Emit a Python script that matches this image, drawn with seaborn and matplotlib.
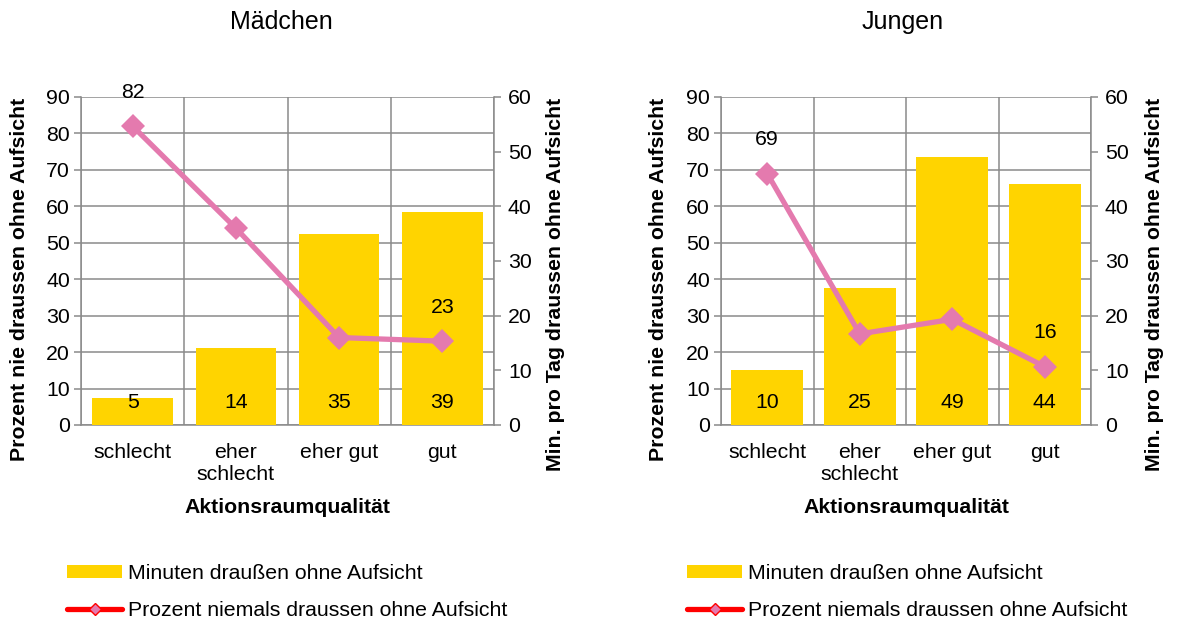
import numpy as np
import matplotlib
matplotlib.use("Agg")
import matplotlib.pyplot as plt
from matplotlib.patches import Patch
from matplotlib.lines import Line2D
from matplotlib.ticker import FixedLocator, NullFormatter
import seaborn as sns

# ---- data -------------------------------------------------------------
categories = ["schlecht", "eher\nschlecht", "eher gut", "gut"]
panel_titles = ["Mädchen", "Jungen"]

# minutes per day outside without supervision (bars, right axis)
minutes_girls = [5, 14, 35, 39]
minutes_boys = [10, 25, 49, 44]

# percent never outside without supervision (line, left axis)
percent_girls = [82, 54, 24, 23]
percent_boys = [69, 25, 29, 16]

left_ticks = list(range(0, 91, 10))
right_ticks = list(range(0, 61, 10))

bar_label = "Minuten draußen ohne Aufsicht"
line_label = "Prozent niemals draussen ohne Aufsicht"
left_ylabel = "Prozent nie draussen ohne Aufsicht"
right_ylabel = "Min. pro Tag draussen ohne Aufsicht"
xlabel = "Aktionsraumqualität"

# ---- style ------------------------------------------------------------
sns.set_theme(style="white")
plt.rcParams["font.family"] = ["Liberation Sans", "DejaVu Sans"]
plt.rcParams.update({
    "text.color": "black",
    "axes.labelcolor": "black",
    "xtick.color": "black",
    "ytick.color": "black",
})

GOLD = "#FFD400"
PINK = "#E47AAE"
GRID = "#8A8A8A"
FS = 15.3

W, H = 1177, 626
fig = plt.figure(figsize=(W / 100, H / 100), dpi=100)


def panel(rect, minutes, percent, title, label_x, title_x):
    ax = fig.add_axes(rect)          # left scale + grid
    ax_bar = ax.twinx()              # right scale, bars
    ax_line = ax.twinx()             # left scale, line on top
    for a in (ax_bar, ax_line):
        a.patch.set_visible(False)

    n = len(categories)
    pos = np.arange(n)

    sns.barplot(x=pos, y=minutes, ax=ax_bar, color=GOLD, saturation=1,
                width=0.78, native_scale=True, linewidth=0, zorder=2)
    sns.lineplot(x=pos, y=percent, ax=ax_line, color=PINK, linewidth=3.8,
                 marker="D", markersize=12, markeredgecolor=PINK,
                 markeredgewidth=0, zorder=5)

    # y scales
    ax.set_ylim(0, 90)
    ax_line.set_ylim(0, 90)
    ax_bar.set_ylim(0, 60)
    ax.set_yticks(left_ticks)
    ax_bar.set_yticks(right_ticks)
    ax_line.set_yticks([])
    ax_line.set_ylabel("")
    ax_bar.set_ylabel("")

    # x scale: boundary ticks with grid, category labels in the middle
    for a in (ax, ax_bar, ax_line):
        a.set_xlim(-0.5, n - 0.5)
    ax.xaxis.set_major_locator(FixedLocator(np.arange(n + 1) - 0.5))
    ax.xaxis.set_major_formatter(NullFormatter())
    ax.xaxis.set_minor_locator(FixedLocator(pos))
    ax.set_xticklabels(categories, minor=True)
    ax.tick_params(axis="x", which="minor", length=0, pad=13,
                   labelsize=FS, labelcolor="black")
    ax.tick_params(axis="x", which="major", length=5, width=1.1,
                   color=GRID, direction="out")
    ax.tick_params(axis="y", length=5, width=1.1, color=GRID,
                   direction="out", labelsize=FS, pad=3, labelcolor="black")
    ax_bar.tick_params(axis="y", length=5, width=1.1, color=GRID,
                       direction="out", labelsize=FS, pad=5,
                       labelcolor="black")
    ax_bar.tick_params(axis="x", length=0, labelbottom=False)
    ax_line.tick_params(axis="x", length=0, labelbottom=False)

    ax.grid(True, axis="both", which="major", color=GRID, linewidth=1.1)
    ax.set_axisbelow(True)

    for a in (ax, ax_bar, ax_line):
        for s in a.spines.values():
            s.set_visible(False)
    for a, side in ((ax, "bottom"), (ax, "left"), (ax_bar, "right")):
        a.spines[side].set_visible(True)
        a.spines[side].set_color(GRID)
        a.spines[side].set_linewidth(1.1)

    # axis titles
    ax.set_ylabel(left_ylabel, fontsize=FS, fontweight="bold")
    ax.yaxis.set_label_coords(label_x[0], 0.445)
    ax_bar.set_ylabel(right_ylabel, fontsize=FS, fontweight="bold",
                      rotation=90)
    ax_bar.yaxis.set_label_coords(label_x[1], 0.43)
    ax.set_xlabel(xlabel, fontsize=FS, fontweight="bold")
    ax.xaxis.set_label_coords(0.5, -0.222)

    # value labels: bars near their base, line at first and last point
    for i, m in enumerate(minutes):
        ax_bar.annotate(f"{m}", (pos[i], 0), xytext=(0, 23),
                        textcoords="offset pixels", ha="center",
                        va="center", fontsize=FS, color="black", zorder=6)
    for i in (0, n - 1):
        ax_line.annotate(f"{percent[i]}", (pos[i], percent[i]),
                         xytext=(0, 34), textcoords="offset pixels",
                         ha="center", va="center", fontsize=FS,
                         color="black", zorder=6)

    fig.text(title_x, 1 - 22 / H, title, ha="center", va="center",
             fontsize=18)
    return ax


def rect(x0, x1, top=97, bottom=425):
    return [x0 / W, (H - bottom) / H, (x1 - x0) / W, (bottom - top) / H]


panel(rect(81, 494), minutes_girls, percent_girls, panel_titles[0],
      (-0.126, 1.126), 281 / W)
panel(rect(721, 1091), minutes_boys, percent_boys, panel_titles[1],
      (-0.143, 1.146), 903 / W)

# legends below each panel
for lx in (67, 687):
    handles = [
        Patch(facecolor=GOLD, edgecolor="none"),
        Line2D([], [], color="#FF0000", linewidth=3.8, marker="D",
               markersize=6, markerfacecolor=PINK, markeredgecolor="#FF0000",
               markeredgewidth=1),
    ]
    fig.legend(handles, [bar_label, line_label], loc="upper left",
               bbox_to_anchor=(lx / W, 1 - 564 / H), frameon=False,
               fontsize=FS, handlelength=2.6, handleheight=0.5,
               handletextpad=0.25, labelspacing=0.85, borderpad=0,
               borderaxespad=0)

fig.savefig("out.png", dpi=100)
